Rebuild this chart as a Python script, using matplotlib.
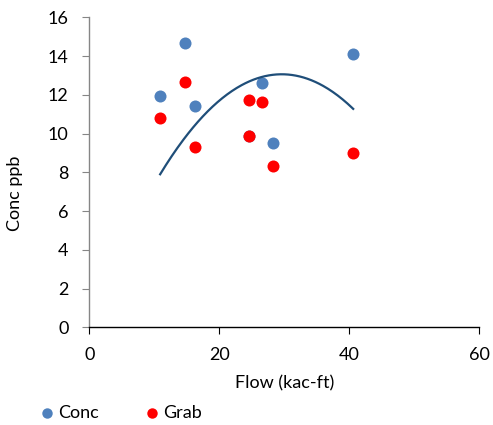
import numpy as np
import matplotlib
matplotlib.use("Agg")
import matplotlib.pyplot as plt
from matplotlib.lines import Line2D

plt.rcParams['font.family'] = ['Lato', 'DejaVu Sans']

conc_x = [10.9, 14.7, 16.2, 24.6, 26.6, 28.3, 40.6]
conc_y = [11.94, 14.67, 11.42, 9.86, 12.59, 9.53, 14.09]
grab_x = [10.9, 14.7, 16.2, 24.6, 26.6, 24.6, 28.3, 40.6]
grab_y = [10.79, 12.68, 9.31, 11.72, 11.65, 9.86, 8.34, 8.98]
# quadratic trendline: y = a*x^2 + b*x + c
trend_a, trend_b, trend_c = -0.01476, 0.8738, 0.127
trend_range = [10.9, 40.6]

W, H = 493, 425
fig = plt.figure(figsize=(W / 100, H / 100), dpi=100)
ax = fig.add_axes([89.3 / W, 1 - 327.3 / H, 390 / W, 310 / H])

ax.scatter(conc_x, conc_y, s=75, color='#4F81BD', zorder=3, linewidths=0)
ax.scatter(grab_x, grab_y, s=75, color='#FF0000', zorder=4, linewidths=0)
tx = np.linspace(trend_range[0], trend_range[1], 200)
ty = trend_a * tx**2 + trend_b * tx + trend_c
ax.plot(tx, ty, color='#1F4E79', lw=1.6, zorder=5)

ax.set_xlim(0, 60)
ax.set_ylim(0, 16)
ax.set_xticks([0, 20, 40, 60])
ax.set_yticks(range(0, 17, 2))
for s in ['top', 'right']:
    ax.spines[s].set_visible(False)
ax.spines['left'].set_color('#868686')
ax.spines['bottom'].set_color('#000000')
ax.spines['left'].set_linewidth(1.0)
ax.spines['bottom'].set_linewidth(1.0)
ax.tick_params(axis='y', direction='out', length=5, color='#868686', labelsize=13, pad=10)
ax.tick_params(axis='x', direction='out', length=5, color='#000000', labelsize=13, pad=9)
ax.set_xlabel('Flow (kac-ft)', fontsize=13)
ax.xaxis.set_label_coords(0.5, -(383 - 327.3) / 310, transform=ax.transAxes)
ax.xaxis.label.set_va('center')
ax.set_ylabel('Conc ppb', fontsize=13)
ax.yaxis.set_label_coords((15 - 89.3) / 390, (327.3 - 193) / 310, transform=ax.transAxes)
ax.yaxis.label.set_va('center')

# legend
leg_y = 1 - 413 / H
for mx, tx0, col, lab in [(47, 58, '#4F81BD', 'Conc'), (152, 163, '#FF0000', 'Grab')]:
    fig.add_artist(Line2D([mx / W], [leg_y], marker='o', ls='', color=col, markersize=7.5,
                          markeredgewidth=0, transform=fig.transFigure))
    fig.text(tx0 / W, leg_y, lab, fontsize=13, va='center', ha='left')

fig.savefig('out.png', dpi=100)
